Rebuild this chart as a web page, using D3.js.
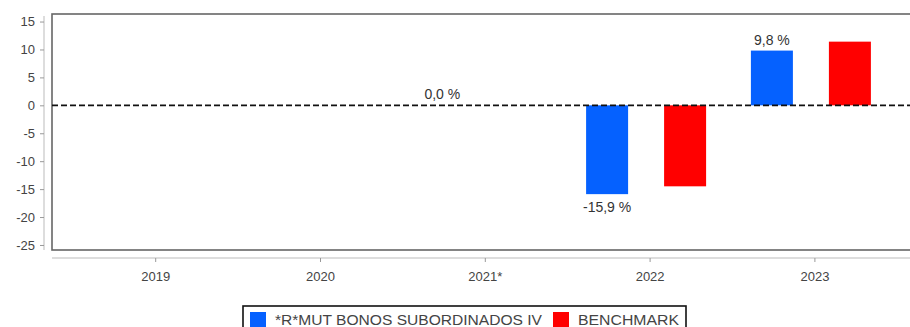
<!DOCTYPE html>
<html>
<head>
<meta charset="utf-8">
<script src="https://cdn.jsdelivr.net/npm/d3@7"></script>
<style>
  html, body { margin: 0; padding: 0; background: #fff; }
  svg { display: block; font-family: "Liberation Sans", Arial, sans-serif; }
</style>
</head>
<body>
<svg id="chart" width="910" height="327"></svg>
<script>
// Annual returns by year (%), null where there is no data
const years = ["2019", "2020", "2021*", "2022", "2023"];
const fundName = "*R*MUT BONOS SUBORDINADOS IV";
const benchName = "BENCHMARK";
const fundValues = [null, null, 0.0, -15.9, 9.8];
const benchValues = [null, null, null, -14.5, 11.4];
const yTicks = [15, 10, 5, 0, -5, -10, -15, -20, -25];
const seriesNames = [fundName, benchName];
const seriesColors = ["#0561ff", "#ff0000"];

const svg = d3.select("#chart");
const FONT = "'Liberation Sans', Arial, sans-serif";

const plot = { left: 52, right: 915, top: 14, bottom: 250 };

const y = d3.scaleLinear().domain([-25.9, 16.35]).range([plot.bottom, plot.top]);
const x = d3.scaleBand().domain(years).range([73.3, 897.3]).padding(0);
const x1 = d3.scaleBand().domain(seriesNames).range([18.4, 138.4]).paddingInner(0.4615).paddingOuter(0);
const color = d3.scaleOrdinal().domain(seriesNames).range(seriesColors);

// Comma decimals, plain hyphen for negatives
const fmt = v => d3.format(".1f")(v).replace(".", ",").replace("\u2212", "-") + " %";
const fmtTick = v => String(v);

// Plot frame
svg.append("rect")
  .attr("x", plot.left).attr("y", plot.top)
  .attr("width", plot.right - plot.left).attr("height", plot.bottom - plot.top)
  .attr("fill", "none").attr("stroke", "#666").attr("stroke-width", 1.6);

// Y axis, set slightly apart from the frame
const yAxis = d3.axisLeft(y).tickValues(yTicks).tickSize(4).tickPadding(5).tickFormat(fmtTick);
const gy = svg.append("g").attr("transform", "translate(44,0)").call(yAxis);
gy.select(".domain").attr("stroke", "#bbb").attr("d", `M0,${plot.top + 2}V${plot.bottom}`);
gy.selectAll(".tick line").attr("stroke", "#999");
gy.selectAll(".tick text").attr("fill", "#444").attr("font-size", 13)
  .attr("font-family", FONT);

// X axis below the frame
const xAxis = d3.axisBottom(x).tickSize(4).tickPadding(10);
const gx = svg.append("g").attr("transform", "translate(0,258)").call(xAxis);
gx.select(".domain").attr("stroke", "#bbb").attr("d", `M${plot.left},0H910`);
gx.selectAll(".tick line").attr("stroke", "#999");
gx.selectAll(".tick text").attr("fill", "#444").attr("font-size", 13)
  .attr("font-family", FONT);

// Bars
const rows = years.map((yr, i) => ({
  year: yr,
  values: [
    { key: fundName, value: fundValues[i], label: true },
    { key: benchName, value: benchValues[i], label: false }
  ]
}));

const groups = svg.append("g").selectAll("g").data(rows).join("g")
  .attr("transform", d => `translate(${x(d.year)},0)`);

groups.selectAll("rect").data(d => d.values.filter(v => v.value !== null && v.value !== 0)).join("rect")
  .attr("x", d => x1(d.key))
  .attr("width", x1.bandwidth())
  .attr("y", d => y(Math.max(0, d.value)))
  .attr("height", d => Math.abs(y(d.value) - y(0)))
  .attr("fill", d => color(d.key));

// Value labels for the fund series
groups.selectAll("text.val").data(d => d.values.filter(v => v.label && v.value !== null)).join("text")
  .attr("class", "val")
  .attr("x", d => x1(d.key) + x1.bandwidth() / 2)
  .attr("y", d => d.value < 0 ? y(d.value) + 18 : y(d.value) - 6)
  .attr("text-anchor", "middle")
  .attr("font-size", 14).attr("fill", "#333")
  .text(d => fmt(d.value));

// Zero reference line
svg.append("line")
  .attr("x1", plot.left).attr("x2", 910)
  .attr("y1", y(0)).attr("y2", y(0))
  .attr("stroke", "#111").attr("stroke-width", 1.6)
  .attr("stroke-dasharray", "6,3");

// Legend
const legend = svg.append("g").attr("transform", "translate(243,306)");
legend.append("rect").attr("x", 0).attr("y", 0).attr("width", 443).attr("height", 26)
  .attr("fill", "#fff").attr("stroke", "#111").attr("stroke-width", 1.6);
const legendX = [7, 310];
const legendTextW = [267, 101];
seriesNames.forEach((name, i) => {
  legend.append("rect").attr("x", legendX[i]).attr("y", 6).attr("width", 16).attr("height", 16)
    .attr("fill", seriesColors[i]);
  legend.append("text").attr("x", legendX[i] + 25).attr("y", 19)
    .attr("font-size", 14).attr("fill", "#444")
    .attr("textLength", legendTextW[i]).attr("lengthAdjust", "spacingAndGlyphs")
    .text(name);
});
</script>
</body>
</html>
